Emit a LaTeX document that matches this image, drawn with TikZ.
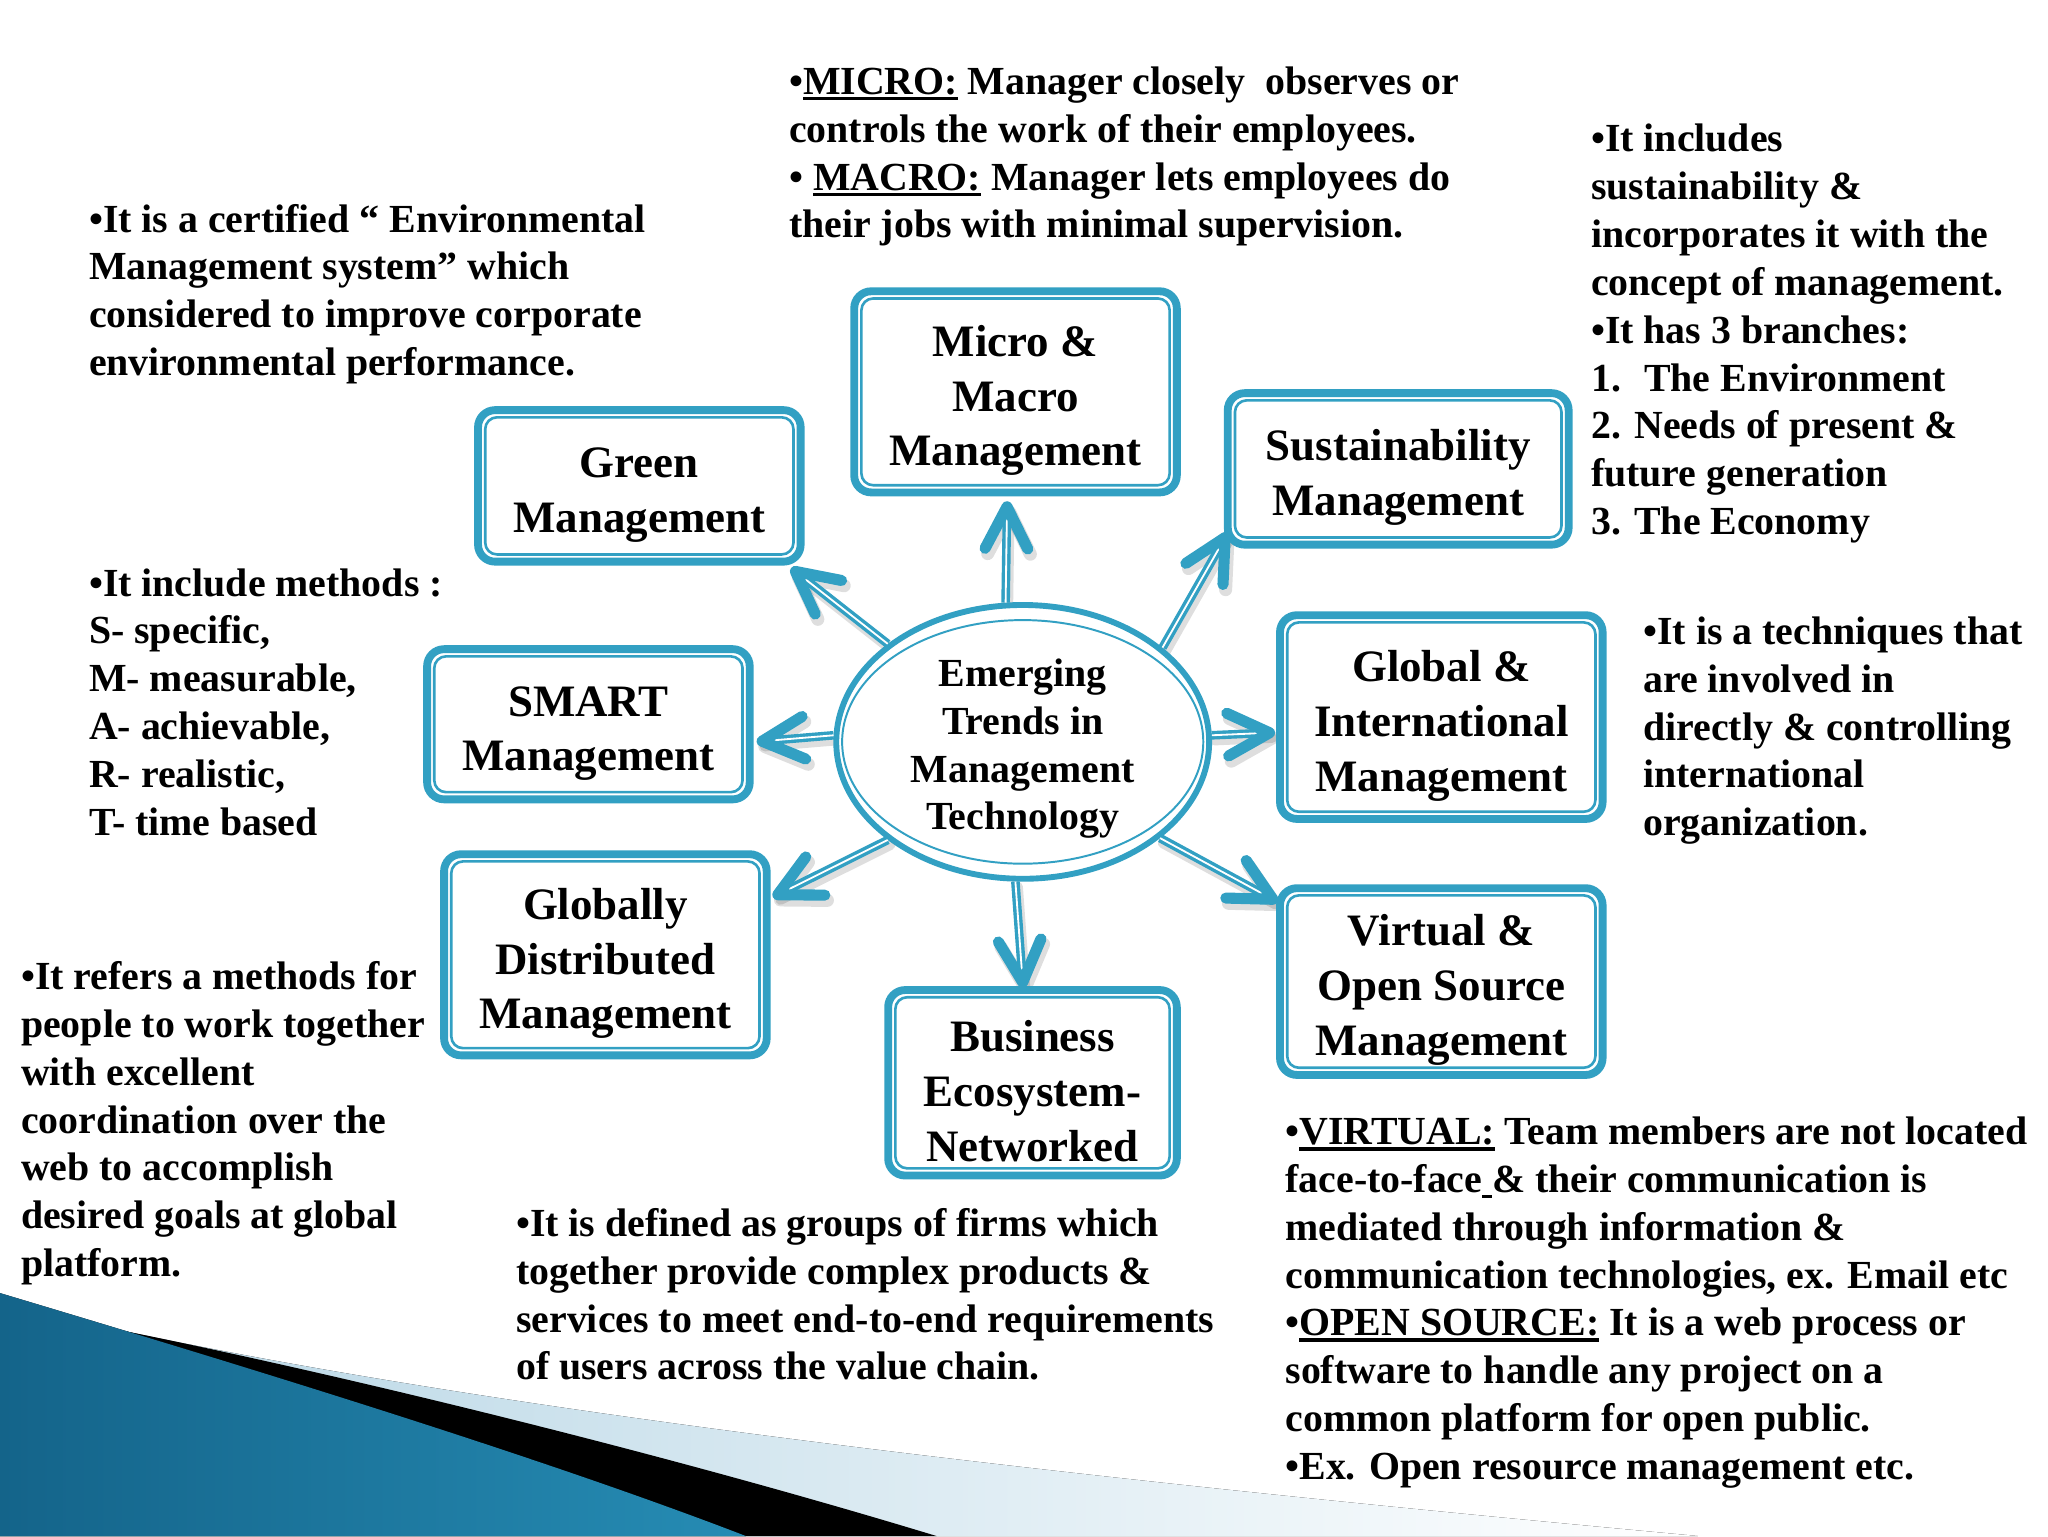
\documentclass[tikz,border=0pt]{standalone}
\usepackage{fontspec}
\setmainfont{Liberation Serif}
\usetikzlibrary{shapes.geometric,calc}
\definecolor{tealc}{RGB}{50,160,195}
\definecolor{tealA}{RGB}{20,100,138}
\definecolor{tealM}{RGB}{85,185,218}
\definecolor{tealB}{RGB}{38,140,180}
\definecolor{lightb}{RGB}{180,212,228}
\pgfdeclarelayer{bg}
\pgfsetlayers{bg,main}
\newcommand\ulx[1]{\setbox0\hbox{#1}\rlap{\rule[-4.5pt]{\wd0}{2.6pt}}\box0\relax}
\newcommand\emarrow[2]{%
  \draw[shaft] (#1) -- (#2);
  \draw[head] ($(#2)!36pt!27:(#1)$) -- (#2) -- ($(#2)!36pt!-27:(#1)$);
}
\newcommand\emshadow[2]{%
  \draw[shadowl] ([shift={(2pt,-4pt)}]#1) -- ([shift={(2pt,-4pt)}]#2);
  \draw[shadowl,line width=10pt] ([shift={(2pt,-4pt)}]$(#2)!36pt!27:(#1)$) -- ([shift={(2pt,-4pt)}]#2) -- ([shift={(2pt,-4pt)}]$(#2)!36pt!-27:(#1)$);
}
\begin{document}
\begin{tikzpicture}[x=1pt,y=-1pt,
  mbox/.style={draw=tealc, line width=6pt, outer sep=3pt, rounded corners=13pt, fill=white,
    align=center, inner sep=0pt, font=\fontsize{34.4}{42}\selectfont\bfseries},
  note/.style={anchor=north west, align=left, inner sep=0pt,
    font=\fontsize{30.5}{36.6}\selectfont\bfseries},
  innerl/.style={draw=tealc, line width=2pt, rounded corners=9pt},
  shaft/.style={draw=tealc, line width=2.6pt, double=white, double distance=1.4pt},
  head/.style={draw=tealc, line width=8.5pt, line cap=round, line join=round},
  shadowl/.style={draw=black, opacity=0.13, line width=7.5pt, line cap=round, line join=round}
]
\useasboundingbox (0,0) rectangle (1568,1176);

% ---------- central ellipse and boxes ----------
\node[ellipse, draw=tealc, line width=4.5pt, outer sep=2.25pt, fill=white, inner sep=0pt,
  minimum width=285.5pt, minimum height=195.5pt, align=center,
  font=\fontsize{30.5}{36.5}\selectfont\bfseries] (c) at (783,568)
  {\rule{0pt}{32pt}Emerging\\Trends in\\Management\\Technology};
\draw[tealc, line width=1.5pt] (c.center) ellipse [x radius=138.25pt, y radius=93.25pt];

\node[mbox, minimum width=247pt, minimum height=154pt] (micro) at (777.5,300) {\rule{0pt}{37pt}Micro \&\\Macro\\Management};
\node[mbox, minimum width=247pt, minimum height=116pt] (green) at (489.5,372) {\rule{0pt}{37pt}Green\\Management};
\node[mbox, minimum width=261pt, minimum height=116pt] (sus) at (1070.5,359) {\rule{0pt}{37pt}Sustainability\\Management};
\node[mbox, minimum width=247pt, minimum height=115pt] (smart) at (450.5,554.5) {\rule{0pt}{37pt}SMART\\Management};
\node[mbox, minimum width=247pt, minimum height=156pt] (global) at (1103.5,549) {\rule{0pt}{37pt}Global \&\\International\\Management};
\node[mbox, minimum width=247pt, minimum height=154pt] (gdist) at (463.5,731) {\rule{0pt}{37pt}Globally\\Distributed\\Management};
\node[mbox, minimum width=221pt, minimum height=142pt] (bus) at (790.5,829) {\rule{0pt}{37pt}Business\\Ecosystem-\\Networked};
\node[mbox, minimum width=247pt, minimum height=143pt] (virt) at (1103.5,751.5) {\rule{0pt}{37pt}Virtual \&\\Open Source\\Management};

\foreach \n in {micro,green,sus,smart,global,gdist,bus,virt}
  \draw[innerl] ([shift={(8.5pt,-8.5pt)}]\n.north west) rectangle ([shift={(-8.5pt,8.5pt)}]\n.south east);

% ---------- arrow tips ----------
\coordinate (tMicro) at (771,388);
\coordinate (tGreen) at (609,437.5);
\coordinate (tSus) at (938,411.5);
\coordinate (tSmart) at (583.5,567.5);
\coordinate (tGlobal) at (972,561);
\coordinate (tGdist) at (595.5,685);
\coordinate (tBus) at (783,752);
\coordinate (tVirt) at (974.5,688.5);

\begin{pgfonlayer}{bg}
  \fill[white] (0,0) rectangle (1568,1176);
  % swoosh
  \fill[left color=lightb, right color=white] (90,1018) .. controls (380,1080) and (800,1130) .. (1300,1176) -- (0,1176) -- cycle;
  \fill[black] (90,1018) .. controls (250,1050) and (500,1110) .. (717,1176) -- (0,1176) -- cycle;
  \fill[left color=tealA, middle color=tealM, right color=tealB] (0,990) .. controls (150,1035) and (400,1110) .. (571,1176) -- (0,1176) -- cycle;
  % arrow shadows
  \emshadow{c.97}{tMicro}
  \emshadow{c.144}{tGreen}
  \emshadow{c.34}{tSus}
  \emshadow{c.178}{tSmart}
  \emshadow{c.2}{tGlobal}
  \emshadow{c.216}{tGdist}
  \emshadow{c.267}{tBus}
  \emshadow{c.325}{tVirt}
\end{pgfonlayer}

\emarrow{c.97}{tMicro}
\emarrow{c.144}{tGreen}
\emarrow{c.34}{tSus}
\emarrow{c.178}{tSmart}
\emarrow{c.2}{tGlobal}
\emarrow{c.216}{tGdist}
\emarrow{c.267}{tBus}
\emarrow{c.325}{tVirt}

% ---------- notes ----------
\node[note] (nMicro) at (604,51) {•\ulx{MICRO:} Manager closely~ observes or\\controls the work of their employees.\\• \ulx{MACRO:} Manager lets employees do\\their jobs with minimal supervision.};
\node[note] (nGreen) at (68,156) {•It is a certified “ Environmental\\Management system” which\\considered to improve corporate\\environmental performance.};
\node[note] (nSus) at (1218,95) {•It includes\\sustainability \&\\incorporates it with the\\concept of management.\\•It has 3 branches:\\1.~ The Environment\\2. Needs of present \&\\future generation\\3. The Economy};
\node[note] (nSmart) at (68,435) {•It include methods :\\S- specific,\\M- measurable,\\A- achievable,\\R- realistic,\\T- time based};
\node[note] (nGlobal) at (1258,472) {•It is a techniques that\\are involved in\\directly \& controlling\\international\\organization.};
\node[note] (nGdist) at (16,736) {•It refers a methods for\\people to work together\\with excellent\\coordination over the\\web to accomplish\\desired goals at global\\platform.};
\node[note] (nBus) at (395,925) {•It is defined as groups of firms which\\together provide complex products \&\\services to meet end-to-end requirements\\of users across the value chain.};
\node[note] (nVirt) at (984,855) {•\ulx{VIRTUAL:} Team members are not located\\face-to-face\ulx{\ }\& their communication is\\mediated through information \&\\communication technologies, ex. Email etc\\•\ulx{OPEN SOURCE:} It is a web process or\\software to handle any project on a\\common platform for open public.\\•Ex. Open resource management etc.};
\end{tikzpicture}
\end{document}
